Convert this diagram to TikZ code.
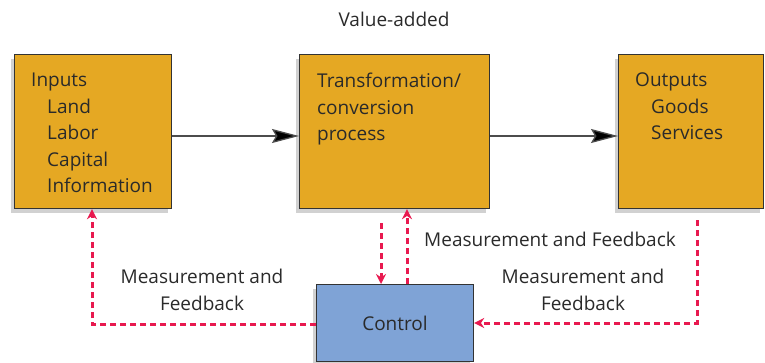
\documentclass[tikz,border=0pt]{standalone}
\usepackage{fontspec}
\setmainfont{Open Sans}
\usetikzlibrary{arrows.meta,shadows}
\definecolor{boxorange}{HTML}{E5A823}
\definecolor{boxblue}{HTML}{7FA3D6}
\definecolor{fbred}{HTML}{E8194F}
\definecolor{edgegray}{HTML}{333333}
\definecolor{txt}{HTML}{2A2A2A}
\tikzset{
  box/.style={draw=edgegray, line width=1.2pt, anchor=north west, inner sep=0pt,
    drop shadow={shadow xshift=-4pt, shadow yshift=-4pt, fill=black, opacity=0.18}},
  lbl/.style={font=\fontsize{19}{26.5}\selectfont, text=txt, inner sep=0pt},
  flow/.style={draw=black!70, line width=1.3pt, -{Stealth[length=27pt,width=14pt,inset=4pt,fill=black]}},
  fb/.style={draw=fbred, line width=3pt, dash pattern=on 6pt off 4pt,
    -{Stealth[length=10pt,width=10pt,fill=fbred]}}
}
\begin{document}
\begin{tikzpicture}[x=1pt,y=-1pt]
\useasboundingbox (0,0) rectangle (765,362);
% boxes
\node[box, fill=boxorange, minimum width=157pt, minimum height=154pt] (in) at (14,54) {};
\node[box, fill=boxorange, minimum width=190pt, minimum height=154pt] (tr) at (299,54) {};
\node[box, fill=boxorange, minimum width=145pt, minimum height=154pt] (out) at (618,54) {};
\node[box, fill=boxblue, minimum width=157pt, minimum height=77pt] (ctl) at (316,284) {};
% texts
\node[lbl, anchor=north west, align=left] (intxt) at (31,73) {Inputs\\\hspace*{16pt}Land\\\hspace*{16pt}Labor\\\hspace*{16pt}Capital\\\hspace*{16pt}Information};
\node[lbl, anchor=north west, align=left] (trtxt) at (317,73) {Transformation/\\conversion\\process};
\node[lbl, anchor=north west, align=left] (outtxt) at (635,73) {Outputs\\\hspace*{16pt}Goods\\\hspace*{16pt}Services};
\node[lbl] (ctltxt) at (395,323) {Control};
\node[lbl] (va) at (394,19) {Value-added};
\node[lbl] (mf1) at (550,239) {Measurement and Feedback};
\node[lbl, align=center] (mf2) at (202,290) {Measurement and\\Feedback};
\node[lbl, align=center] (mf3) at (583,290) {Measurement and\\Feedback};
% flow arrows
\draw[flow] (in.east |- 0,136) -- (tr.west |- 0,136);
\draw[flow] (tr.east |- 0,136) -- (out.west |- 0,136);
% feedback
\coordinate (c1) at (92,324);
\draw[fb] (ctl.west |- c1) -- (c1) -- (in.south -| c1);
\coordinate (c2) at (381,223);
\draw[fb] (c2) -- (ctl.north -| c2);
\coordinate (c3) at (407,284);
\draw[fb] (ctl.north -| c3) -- (tr.south -| c3);
\coordinate (c4) at (697,220);
\coordinate (c5) at (697,323);
\draw[fb] (c4) -- (c5) -- (ctl.east |- c5);
\end{tikzpicture}
\end{document}
